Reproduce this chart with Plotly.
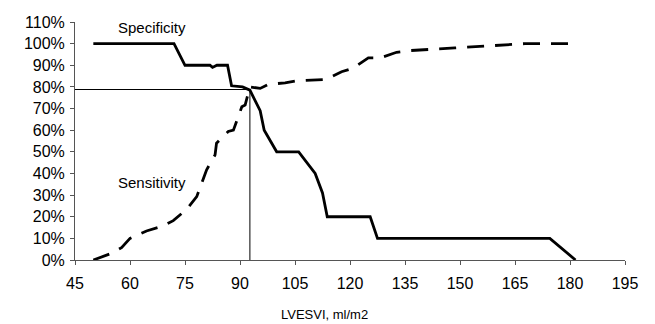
import plotly.graph_objects as go

# Specificity (solid)
spec_x = [50, 72, 75, 81.8, 82.5, 83.7, 86.6, 87.7, 90.7, 92.7, 95.5, 96.6, 100, 106, 110.5, 112.5, 113.8, 125.5, 127.5, 174.5, 181.5]
spec_y = [1.00, 1.00, 0.90, 0.90, 0.89, 0.90, 0.90, 0.805, 0.80, 0.785, 0.69, 0.60, 0.50, 0.50, 0.40, 0.31, 0.20, 0.20, 0.10, 0.10, 0.0]

# Sensitivity (dashed)
sens_x = [50, 54.8, 57.7, 60, 64.5, 69, 71.8, 75.5, 78.2, 80.9, 83.2, 83.6, 86.8, 88.2, 90.5, 91.4, 92.7, 95.5, 97.6, 102.3, 105.5, 110.5, 113.6, 117.7, 120.9, 125, 128.2, 132.7, 136.4, 148.6, 156.3, 164.5, 167.7, 180]
sens_y = [0.0, 0.03, 0.057, 0.10, 0.134, 0.157, 0.182, 0.235, 0.293, 0.417, 0.486, 0.54, 0.594, 0.60, 0.708, 0.716, 0.80, 0.793, 0.811, 0.819, 0.828, 0.831, 0.835, 0.87, 0.887, 0.934, 0.934, 0.96, 0.968, 0.98, 0.988, 0.998, 1.0, 1.0]

# Optimal cut-off
cut_x = 92.7
cut_y = 0.788

x_ticks = [45, 60, 75, 90, 105, 120, 135, 150, 165, 180, 195]

fig = go.Figure()
fig.add_trace(go.Scatter(x=[45, cut_x], y=[cut_y, cut_y], mode="lines",
                         line=dict(color="black", width=1), showlegend=False))
fig.add_trace(go.Scatter(x=[cut_x, cut_x], y=[0, cut_y], mode="lines",
                         line=dict(color="black", width=1), showlegend=False))
fig.add_trace(go.Scatter(x=sens_x, y=sens_y, mode="lines",
                         line=dict(color="black", width=2.8, dash="17px,11px"), showlegend=False))
fig.add_trace(go.Scatter(x=spec_x, y=spec_y, mode="lines",
                         line=dict(color="black", width=2.8), showlegend=False))

font = "Liberation Sans, Arial, sans-serif"
fig.add_annotation(x=66, y=1.076, text="Specificity", showarrow=False,
                   font=dict(family=font, size=15, color="black"))
fig.add_annotation(x=66, y=0.36, text="Sensitivity", showarrow=False,
                   font=dict(family=font, size=15, color="black"))
fig.add_annotation(xref="paper", yref="paper", x=0.4545, y=-0.228, text="LVESVI, ml/m2",
                   showarrow=False, yanchor="middle",
                   font=dict(family=font, size=13, color="black"))

fig.update_layout(
    width=655, height=324,
    margin=dict(l=75, r=30, t=22, b=64),
    paper_bgcolor="white", plot_bgcolor="white",
    font=dict(family=font, color="black"),
)
fig.update_xaxes(range=[45, 195], tickvals=x_ticks, ticktext=[str(v) for v in x_ticks],
                 showgrid=False, zeroline=False, showline=True, linecolor="#555", linewidth=1,
                 ticks="outside", ticklen=4, tickcolor="#555", ticklabelstandoff=5,
                 tickfont=dict(family=font, size=16, color="black"))
fig.update_yaxes(range=[0, 1.1], dtick=0.1, tickformat=".0%",
                 showgrid=False, zeroline=False, showline=True, linecolor="#555", linewidth=1,
                 ticks="outside", ticklen=4, tickcolor="#555", ticklabelstandoff=2,
                 tickfont=dict(family=font, size=16, color="black"))

fig.write_html("out.html")
